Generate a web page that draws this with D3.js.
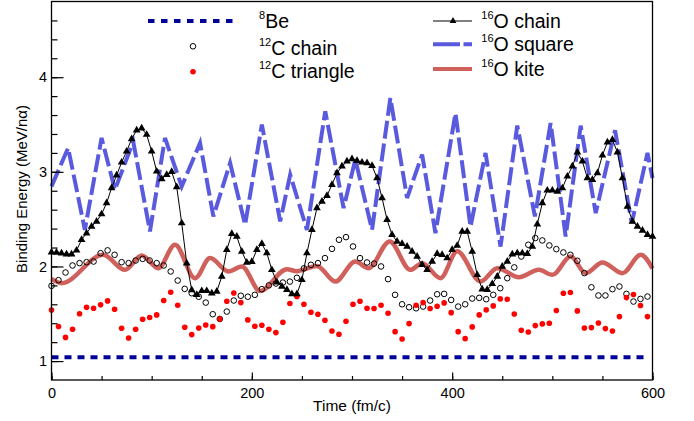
<!DOCTYPE html>
<html>
<head>
<meta charset="utf-8">
<script src="https://cdn.jsdelivr.net/npm/d3@7"></script>
<style>
  body { margin: 0; background: #fff; }
  svg { display: block; font-family: "Liberation Sans", Arial, Helvetica, sans-serif; }
</style>
</head>
<body>
<svg id="chart" width="694" height="421"></svg>
<script>
// time grids (fm/c)
const t7 = d3.range(0, 600, 7);      // 12C samples
const t5 = d3.range(0, 601, 5);      // 16O chain samples

const be8T = [0, 595];
const be8 = [1.04, 1.04];

const c12Chain = [1.795,1.855,1.936,2.01,2.035,2.045,2.052,2.14,2.17,2.123,
  2.045,2.035,2.063,2.08,2.063,2.035,2.01,1.947,1.851,1.763,
  1.717,1.68,1.618,1.495,1.445,1.523,1.64,1.69,1.68,1.70,
  1.76,1.80,1.82,1.83,1.84,1.88,1.98,2.017,2.035,2.088,
  2.186,2.282,2.31,2.211,2.088,2.042,2.03,2.0,1.866,1.70,
  1.60,1.569,1.558,1.576,1.64,1.706,1.71,1.646,1.576,1.60,
  1.661,1.668,1.654,1.70,1.77,1.876,1.99,2.105,2.229,2.30,
  2.275,2.222,2.183,2.148,2.123,2.06,1.93,1.78,1.693,1.693,
  1.76,1.788,1.71,1.629,1.657,1.682];

const c12Tri = [1.54,1.365,1.25,1.336,1.50,1.569,1.558,1.594,1.636,1.548,
  1.347,1.244,1.336,1.442,1.46,1.488,1.64,1.728,1.59,1.357,
  1.28,1.35,1.382,1.364,1.445,1.632,1.72,1.618,1.435,1.368,
  1.378,1.336,1.301,1.41,1.608,1.682,1.60,1.516,1.495,1.431,
  1.318,1.283,1.421,1.60,1.632,1.558,1.555,1.59,1.505,1.311,
  1.234,1.396,1.59,1.618,1.555,1.58,1.615,1.512,1.311,1.237,
  1.361,1.488,1.541,1.583,1.657,1.654,1.498,1.325,1.308,1.375,
  1.393,1.40,1.534,1.717,1.724,1.53,1.35,1.354,1.403,1.343,
  1.318,1.47,1.671,1.703,1.587,1.47];

const o16Chain = [2.15,2.148,2.14,2.13,2.13,2.17,2.282,2.352,2.423,2.476,
  2.553,2.67,2.83,2.963,3.10,3.216,3.347,3.44,3.46,3.393,
  3.216,3.005,2.924,2.97,3.0,2.84,2.458,2.035,1.752,1.70,
  1.742,1.742,1.717,1.735,1.894,2.176,2.345,2.317,2.158,2.042,
  2.05,2.176,2.239,2.141,1.964,1.834,1.788,1.753,1.71,1.71,
  1.858,2.141,2.388,2.617,2.687,2.747,2.864,2.987,3.058,3.111,
  3.135,3.118,3.10,3.093,3.065,2.934,2.723,2.493,2.335,2.264,
  2.239,2.211,2.158,2.105,2.017,1.964,2.052,2.134,2.123,2.088,
  2.176,2.22,2.37,2.37,2.158,1.911,1.76,1.753,1.816,1.894,
  2.0,2.052,2.13,2.141,2.141,2.134,2.211,2.447,2.67,2.804,
  2.804,2.793,2.828,2.952,3.058,3.206,3.111,2.934,2.917,2.987,
  3.174,3.312,3.34,3.206,2.934,2.634,2.476,2.423,2.38,2.335,
  2.317];

const o16SquareT = [0,16.6,33.3,50,63.3,81.6,98.3,113.3,130,148.3,161.6,178.3,193.3,
  210,228.3,238.3,255,273.3,291.6,303.3,320,338.3,355,370,383.3,403.3,418.3,
  433.3,448.3,465,482.6,498.3,513.3,528.3,543.3,562.6,579.3,595,600];
const o16Square = [2.846,3.252,2.387,3.358,2.81,3.32,2.37,3.358,2.846,3.305,2.529,3.093,2.44,
  3.499,2.476,2.97,2.387,3.64,2.617,3.13,2.387,3.78,2.723,3.181,2.352,3.62,2.42,
  3.199,2.21,3.488,2.529,3.516,2.317,3.488,2.564,3.439,2.458,3.199,2.934];

const o16KiteT = [0,10,51.6,73.3,90,106.6,123.3,143.3,158.3,176.6,190,208.3,235,245,265,
  283.3,303.3,316.6,337.6,358.3,370,388.3,405,428.3,445,466.6,486.6,500,518.3,
  533.3,550,570,588.3,600];
const o16Kite = [1.87,1.823,2.123,1.964,2.116,1.982,2.229,1.876,2.088,1.947,2.0,1.74,1.97,1.95,2.006,
  1.84,2.052,1.982,2.264,1.964,2.035,1.876,2.16,1.841,1.982,1.886,1.964,1.911,2.105,
  1.929,2.042,1.929,2.123,1.98];

const xTicks = [0, 200, 400, 600];
const yTicks = [1, 2, 3, 4];

const svg = d3.select('#chart');

const x = d3.scaleLinear().domain([0, 600]).range([51.5, 652.5]);
const y = d3.scaleLinear().domain([0.8, 4.8]).range([380, 1.5]);

const line = d3.line().x(d => x(d[0])).y(d => y(d[1]));
const smooth = d3.line().x(d => x(d[0])).y(d => y(d[1])).curve(d3.curveMonotoneX);

const zip = (ts, vs) => ts.map((t, i) => [t, vs[i]]);

// 16O square
svg.append('path')
    .attr('d', line(zip(o16SquareT, o16Square)))
    .attr('fill', 'none')
    .attr('stroke', '#5a5ade')
    .attr('stroke-width', 4)
    .attr('stroke-linejoin', 'miter')
    .attr('stroke-dasharray', '18,5');

// 16O kite
svg.append('path')
    .attr('d', smooth(zip(o16KiteT, o16Kite)))
    .attr('fill', 'none')
    .attr('stroke', '#d0605b')
    .attr('stroke-width', 4.5);

// 8Be
svg.append('path')
    .attr('d', line(zip(be8T, be8)))
    .attr('fill', 'none')
    .attr('stroke', '#000099')
    .attr('stroke-width', 4)
    .attr('stroke-dasharray', '7,6');

// 12C chain
svg.append('g').selectAll('circle')
    .data(zip(t7, c12Chain))
    .enter().append('circle')
    .attr('cx', d => x(d[0]))
    .attr('cy', d => y(d[1]))
    .attr('r', 2.8)
    .attr('fill', 'none')
    .attr('stroke', '#000')
    .attr('stroke-width', 1);

// 12C triangle
svg.append('g').selectAll('circle')
    .data(zip(t7, c12Tri))
    .enter().append('circle')
    .attr('cx', d => x(d[0]))
    .attr('cy', d => y(d[1]))
    .attr('r', 2.8)
    .attr('fill', '#ff0000');

// 16O chain
const chainData = zip(t5, o16Chain);
svg.append('path')
    .attr('d', line(chainData))
    .attr('fill', 'none')
    .attr('stroke', '#000')
    .attr('stroke-width', 1);
const tri = d3.symbol(d3.symbolTriangle, 26);
svg.append('g').selectAll('path')
    .data(chainData)
    .enter().append('path')
    .attr('d', tri)
    .attr('transform', d => `translate(${x(d[0])},${y(d[1])})`)
    .attr('fill', '#000');

// axes
const axisG = svg.append('g').attr('font-size', 14.5);

const xMajor = d3.axisBottom(x).tickValues(xTicks).tickSize(-7.5).tickPadding(7.5).tickFormat(d3.format('d'));
const xMinor = d3.axisBottom(x).tickValues(d3.range(0, 601, 50)).tickSize(-4).tickFormat('');
const yMajor = d3.axisLeft(y).tickValues(yTicks).tickSize(-12).tickPadding(4.5).tickFormat(d3.format('d'));
const yMinor = d3.axisLeft(y).tickValues(d3.range(1, 4.75, 0.2)).tickSize(-6).tickFormat('');

[[xMinor, 'b'], [xMajor, 'b'], [yMinor, 'l'], [yMajor, 'l']].forEach(([ax, side]) => {
    const g = axisG.append('g')
        .attr('transform', side === 'b' ? 'translate(0,380)' : 'translate(51.5,0)')
        .call(ax);
    g.select('.domain').remove();
    g.selectAll('line').attr('stroke', '#000').attr('stroke-width', 1.2);
    g.selectAll('text').attr('fill', '#000').attr('font-family', null).attr('font-size', 14.5);
});

// frame
svg.append('rect')
    .attr('x', 51.5).attr('y', 1.5)
    .attr('width', 601).attr('height', 378.5)
    .attr('fill', 'none')
    .attr('stroke', '#000')
    .attr('stroke-width', 1.3);

// axis titles
svg.append('text')
    .attr('x', 352).attr('y', 411)
    .attr('text-anchor', 'middle')
    .attr('font-size', 15.5)
    .text('Time (fm/c)');

svg.append('text')
    .attr('transform', 'translate(26.5,189) rotate(-90)')
    .attr('text-anchor', 'middle')
    .attr('font-size', 15)
    .text('Binding Energy (MeV/n\u03b1)');

// legend
const legend = svg.append('g').attr('font-size', 19.5);
function label(xp, yp, sup, main) {
    const t = legend.append('text').attr('x', xp).attr('y', yp);
    t.append('tspan').attr('font-size', 11).attr('dy', -9).text(sup);
    t.append('tspan').attr('dy', 9).text(main);
}

legend.append('line')
    .attr('x1', 148).attr('x2', 233).attr('y1', 21).attr('y2', 21)
    .attr('stroke', '#000099').attr('stroke-width', 4).attr('stroke-dasharray', '6.5,6.5');
label(259, 28.3, '8', 'Be');
legend.append('circle').attr('cx', 193).attr('cy', 46.3).attr('r', 2.8)
    .attr('fill', 'none').attr('stroke', '#000');
label(259, 55, '12', 'C chain');
legend.append('circle').attr('cx', 193).attr('cy', 71.7).attr('r', 2.8).attr('fill', '#ff0000');
label(259, 77.7, '12', 'C triangle');

legend.append('line')
    .attr('x1', 433).attr('x2', 472).attr('y1', 21).attr('y2', 21)
    .attr('stroke', '#000').attr('stroke-width', 1);
legend.append('path').attr('d', d3.symbol(d3.symbolTriangle, 20)())
    .attr('transform', 'translate(453,21)');
label(481.3, 28.3, '16', 'O chain');
legend.append('line')
    .attr('x1', 433).attr('x2', 472).attr('y1', 44.3).attr('y2', 44.3)
    .attr('stroke', '#5a5ade').attr('stroke-width', 4).attr('stroke-dasharray', '27,3.5');
label(481.3, 50.7, '16', 'O square');
legend.append('line')
    .attr('x1', 433).attr('x2', 472).attr('y1', 69).attr('y2', 69)
    .attr('stroke', '#d0605b').attr('stroke-width', 4);
label(481.3, 76, '16', 'O kite');
</script>
</body>
</html>
